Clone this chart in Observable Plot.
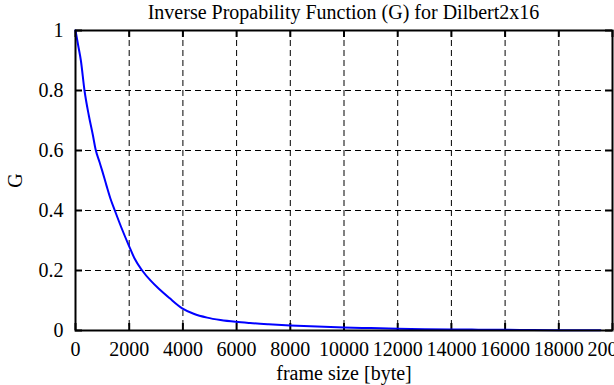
<!DOCTYPE html>
<html>
<head>
<meta charset="utf-8">
<script src="https://cdn.jsdelivr.net/npm/d3@7"></script>
<script src="https://cdn.jsdelivr.net/npm/@observablehq/plot@0.6"></script>
<style>
  html, body { margin: 0; padding: 0; background: white; overflow: hidden; }
  #title { height: 24px; line-height: 24px; font-family: "Liberation Serif", serif; font-size: 20px;
           text-align: center; padding-left: 75px; padding-right: 2px; width: 537px; white-space: nowrap; }
  svg { overflow: visible; }
</style>
</head>
<body>
<div id="title">Inverse Propability Function (G) for Dilbert2x16</div>
<div id="chart"></div>
<script>
const frameSize = [0, 100, 200, 335, 500, 650, 745, 900, 993, 1155, 1300, 1465, 1700, 1987, 2200, 2483, 2800, 3104, 3500, 3973, 4400, 4904, 5400, 5959, 6500, 7188, 8000, 9000, 10000, 11000, 12000, 13000, 14000, 15000, 16000, 17000, 18000, 19000, 19550];
const gValues = [1.0, 0.95, 0.9, 0.8, 0.715, 0.65, 0.605, 0.56, 0.533, 0.483, 0.44, 0.4, 0.345, 0.283, 0.24, 0.2, 0.166, 0.139, 0.108, 0.074, 0.056, 0.043, 0.035, 0.029, 0.025, 0.021, 0.017, 0.013, 0.01, 0.008, 0.006, 0.0045, 0.0035, 0.0028, 0.0022, 0.0017, 0.0012, 0.0008, 0.0005];
const xTicks = [0, 2000, 4000, 6000, 8000, 10000, 12000, 14000, 16000, 18000, 20000];
const yTicks = [0, 0.2, 0.4, 0.6, 0.8, 1];
const xGrid = xTicks.slice(1, -1);
const yGrid = yTicks.slice(1, -1);

const data = frameSize.map((x, i) => ({x, g: gValues[i]}));

const W = 614, H = 361, mT = 6, mB = 55, mL = 75, mR = 2;
const innerH = H - mT - mB, innerW = W - mL - mR, tick = 7;

const chart = Plot.plot({
  width: W, height: H,
  marginTop: mT, marginBottom: mB, marginLeft: mL, marginRight: mR,
  style: {fontFamily: "Liberation Serif, serif", fontSize: "20px", background: "white", color: "black", overflow: "visible"},
  x: {domain: [0, 20000]},
  y: {domain: [0, 1]},
  marks: [
    Plot.ruleX(xGrid, {x: d => d, stroke: "black", strokeWidth: 1, strokeDasharray: "6,4"}),
    Plot.ruleY(yGrid, {y: d => d, stroke: "black", strokeWidth: 1, strokeDasharray: "6,4"}),
    Plot.tickX(xTicks, {x: d => d, insetTop: innerH - tick, stroke: "black", strokeWidth: 2}),
    Plot.tickX(xTicks, {x: d => d, insetBottom: innerH - tick, stroke: "black", strokeWidth: 2}),
    Plot.tickY(yTicks, {y: d => d, insetRight: innerW - tick, stroke: "black", strokeWidth: 2}),
    Plot.tickY(yTicks, {y: d => d, insetLeft: innerW - tick, stroke: "black", strokeWidth: 2}),
    Plot.axisX({ticks: xTicks, tickSize: 0, tickPadding: 11, tickFormat: d => String(d), fontSize: 20,
                label: "frame size [byte]", labelAnchor: "center", labelOffset: 49, labelArrow: "none"}),
    Plot.axisY({ticks: yTicks, tickSize: 0, tickPadding: 12, tickFormat: d => String(d), fontSize: 20,
                label: "G", labelAnchor: "center", labelOffset: 68, labelArrow: "none"}),
    Plot.line(data, {x: "x", y: "g", stroke: "#0000ff", strokeWidth: 2, curve: "monotone-x"}),
    Plot.frame({stroke: "black", strokeWidth: 2})
  ]
});
document.getElementById("chart").appendChild(chart);
</script>
</body>
</html>
